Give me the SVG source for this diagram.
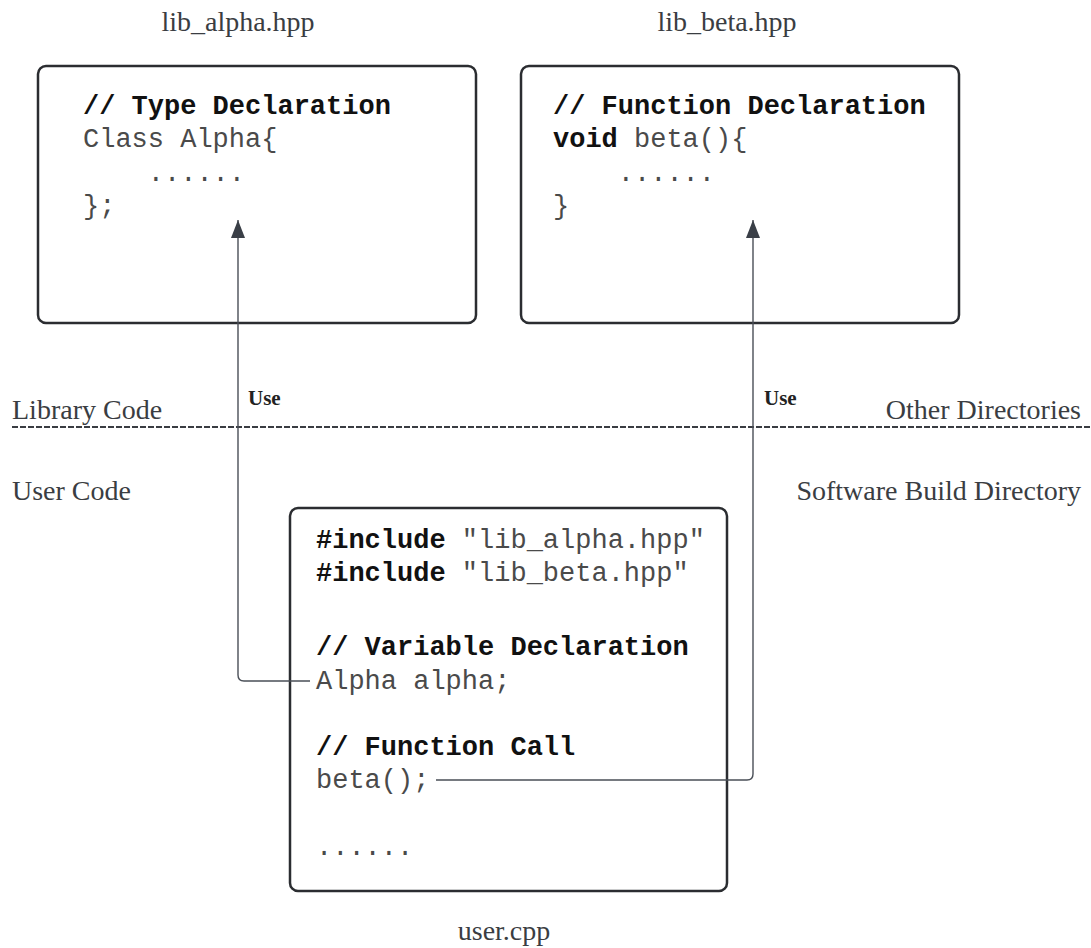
<svg xmlns="http://www.w3.org/2000/svg" width="1091" height="948" viewBox="0 0 1091 948">
<style>
.box{fill:#fff;stroke:#2b2d31;stroke-width:2.5}
.code{font-family:"Liberation Mono","Courier New",monospace;font-size:27px;fill:#4a4a4a}
.b{font-weight:bold;fill:#111}
.lbl{font-family:"Liberation Serif","Times New Roman",serif;font-size:28px;fill:#3a3d42}
.use{font-family:"Liberation Serif","Times New Roman",serif;font-size:21px;font-weight:bold;fill:#222}
.conn{fill:none;stroke:#4a4f57;stroke-width:1.4}
</style>
<defs>
<marker id="arr" markerWidth="18" markerHeight="14" refX="18" refY="7" orient="auto" markerUnits="userSpaceOnUse" viewBox="0 0 18 14">
<path d="M0 0 L18 7 L0 14 Z" fill="#3a3f47"/>
</marker>
</defs>
<rect width="1091" height="948" fill="#fff"/>
<g id="labels">
<text class="lbl" x="238" y="31" text-anchor="middle">lib_alpha.hpp</text>
<text class="lbl" x="727" y="31" text-anchor="middle">lib_beta.hpp</text>
<text class="lbl" x="504" y="940" text-anchor="middle">user.cpp</text>
<text class="lbl" x="12" y="419">Library Code</text>
<text class="lbl" x="1081" y="419" text-anchor="end">Other Directories</text>
<text class="lbl" x="12" y="500">User Code</text>
<text class="lbl" x="1081" y="500" text-anchor="end">Software Build Directory</text>
<line x1="12" y1="427" x2="1091" y2="427" stroke="#3a3d42" stroke-width="1.8" stroke-dasharray="6 2"/>
</g>
<g id="lib_alpha">
<rect class="box" x="38" y="66" width="438" height="257" rx="8"/>
<text class="code b" x="83" y="114">// Type Declaration</text>
<text class="code" x="83" y="147">Class Alpha{</text>
<text class="code" x="83" y="181" xml:space="preserve">    ......</text>
<text class="code" x="83" y="214">};</text>
</g>
<g id="lib_beta">
<rect class="box" x="521" y="66" width="438" height="257" rx="8"/>
<text class="code b" x="553" y="114">// Function Declaration</text>
<text class="code" x="553" y="147"><tspan class="b">void</tspan> beta(){</text>
<text class="code" x="553" y="181" xml:space="preserve">    ......</text>
<text class="code" x="553" y="214">}</text>
</g>
<g id="user_cpp">
<rect class="box" x="290" y="508" width="437" height="383" rx="8"/>
<text class="code" x="316" y="548"><tspan class="b">#include</tspan> "lib_alpha.hpp"</text>
<text class="code" x="316" y="581"><tspan class="b">#include</tspan> "lib_beta.hpp"</text>
<text class="code b" x="316" y="655">// Variable Declaration</text>
<text class="code" x="316" y="689">Alpha alpha;</text>
<text class="code b" x="316" y="755">// Function Call</text>
<text class="code" x="316" y="788">beta();</text>
<text class="code" x="316" y="855">......</text>
</g>
<g id="connectors">
<path class="conn" d="M310 681 H244 Q238 681 238 675 V220" marker-end="url(#arr)"/>
<path class="conn" d="M436 780 H747 Q753 780 753 774 V220" marker-end="url(#arr)"/>
<text class="use" x="248" y="405">Use</text>
<text class="use" x="764" y="405">Use</text>
</g>
</svg>
